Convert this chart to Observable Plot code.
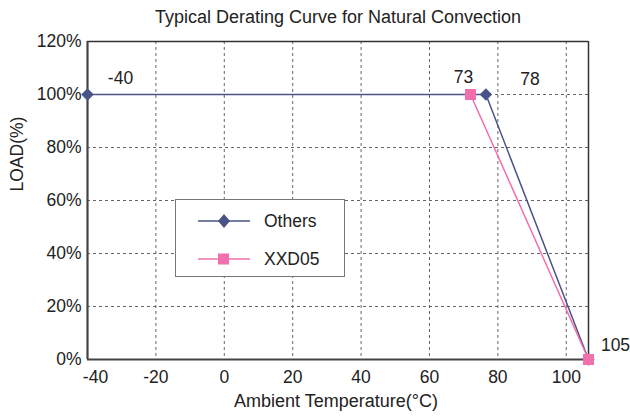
<!DOCTYPE html>
<html>
<head>
<meta charset="utf-8">
<script src="https://cdn.jsdelivr.net/npm/d3@7"></script>
<script src="https://cdn.jsdelivr.net/npm/@observablehq/plot@0.6"></script>
<style>
  html, body { margin: 0; padding: 0; background: #fff; }
  #wrap { position: relative; width: 630px; height: 416px; font-family: "Liberation Sans", Arial, sans-serif; }
  #legend { position: absolute; left: 175px; top: 199px; width: 168px; height: 76px; border: 1.5px solid #777; background: #fff; }
  .row { position: absolute; left: 0; height: 24px; display: flex; align-items: center; }
  .row span { font-size: 17.5px; color: #222; margin-left: 14px; }
</style>
</head>
<body>
<div id="wrap"></div>
<script>
// ---- data ----
const othersTemp = [-40, 76.5, 106.5];
const othersLoad = [100, 100, 0];
const xxdTemp = [72, 106.5];
const xxdLoad = [100, 0];
const seriesNames = ["Others", "XXD05"];
const seriesColors = ["#4a5386", "#f26fae"];
const xTicks = [-40, -20, 0, 20, 40, 60, 80, 100];
const yTicks = [0, 20, 40, 60, 80, 100, 120];
const annoText = ["-40", "73", "78", "105"];
const annoTemp = [-40, 72, 76.5, 106.5];
const annoLoad = [100, 100, 100, 0];
const annoDx = [33, -7, 44, 27];
const annoDy = [-16, -17, -15, -14];
const titleText = "Typical Derating Curve for Natural Convection";
const xLabel = "Ambient Temperature(°C)";
const yLabel = "LOAD(%)";

const others = othersTemp.map((t, i) => ({t, v: othersLoad[i]}));
const xxd = xxdTemp.map((t, i) => ({t, v: xxdLoad[i]}));
const annos = annoText.map((s, i) => ({s, t: annoTemp[i], v: annoLoad[i], dx: annoDx[i], dy: annoDy[i]}));

const font = "Liberation Sans, Arial, sans-serif";
const grid = {stroke: "#666", strokeOpacity: 1, strokeWidth: 1, strokeDasharray: "3,3"};
const fmt = d => String(d);

const chart = Plot.plot({
  width: 630,
  height: 416,
  marginLeft: 87,
  marginRight: 42,
  marginTop: 41,
  marginBottom: 57,
  style: {fontFamily: font, fontSize: "17.5px", color: "#222", background: "#fff", overflow: "visible"},
  x: {domain: [-40, 106.5]},
  y: {domain: [0, 120]},
  marks: [
    Plot.gridX(xTicks.slice(1), grid),
    Plot.gridY(yTicks.slice(1, -1), grid),
    Plot.ruleY([120], {stroke: "#333", strokeWidth: 1.5}),
    Plot.ruleX([106.5], {stroke: "#333", strokeWidth: 1.5}),
    Plot.ruleX([-40], {stroke: "#444", strokeWidth: 2.2}),
    Plot.ruleY([0], {stroke: "#444", strokeWidth: 2.2}),
    Plot.axisX(xTicks.slice(1), {tickSize: 0, tickPadding: 11, fontSize: 17.5, label: null, tickFormat: fmt, fill: "#222"}),
    Plot.axisX(xTicks.slice(0, 1), {tickSize: 0, tickPadding: 11, dx: 8, fontSize: 17.5, label: null, tickFormat: fmt, fill: "#222"}),
    Plot.axisY(yTicks, {tickSize: 0, tickPadding: 6, fontSize: 17.5, label: null, tickFormat: d => d + "%", fill: "#222"}),
    Plot.line(others, {x: "t", y: "v", stroke: seriesColors[0], strokeWidth: 1.5}),
    Plot.line(xxd, {x: "t", y: "v", stroke: seriesColors[1], strokeWidth: 1.5}),
    Plot.dot(others, {x: "t", y: "v", symbol: "diamond2", r: 5.6, fill: seriesColors[0], stroke: "none"}),
    Plot.dot(xxd, {x: "t", y: "v", symbol: "square", r: 6.2, fill: seriesColors[1], stroke: "none"}),
    ...annos.map(a => Plot.text([a], {x: "t", y: "v", text: "s", dx: a.dx, dy: a.dy, fontSize: 17.5, fill: "#222"})),
    Plot.text([titleText], {frameAnchor: "top", dy: -31, fontSize: 18, fill: "#222"}),
    Plot.text([xLabel], {frameAnchor: "bottom", dy: 47, dx: -2, fontSize: 18, fill: "#222"}),
    Plot.text([yLabel], {frameAnchor: "left", dx: -70, dy: -9, rotate: -90, fontSize: 17.5, fill: "#222"})
  ]
});

const wrap = document.getElementById("wrap");
wrap.appendChild(chart);

// legend
const legend = document.createElement("div");
legend.id = "legend";
seriesNames.forEach((name, i) => {
  const row = document.createElement("div");
  row.className = "row";
  row.style.top = (i === 0 ? 9 : 47) + "px";
  row.style.left = "22px";
  const sym = i === 0
    ? `<path d="M26,5 L32,12 L26,19 L20,12 Z" fill="${seriesColors[0]}"/>`
    : `<rect x="20" y="6.5" width="11" height="11" fill="${seriesColors[1]}"/>`;
  row.innerHTML = `<svg width="52" height="24"><line x1="0" y1="12" x2="52" y2="12" stroke="${seriesColors[i]}" stroke-width="1.5"/>${sym}</svg><span>${name}</span>`;
  legend.appendChild(row);
});
wrap.appendChild(legend);
</script>
</body>
</html>
